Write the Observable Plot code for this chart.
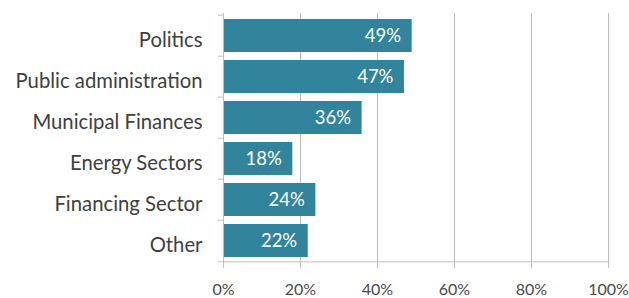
<!DOCTYPE html>
<html><head><meta charset="utf-8">
<script src="https://cdn.jsdelivr.net/npm/d3@7"></script>
<script src="https://cdn.jsdelivr.net/npm/@observablehq/plot@0.6"></script>
<style>body{margin:0;background:#fff}</style>
</head><body><div id="chart"></div><script>
const categories = ["Politics","Public administration","Municipal Finances","Energy Sectors","Financing Sector","Other"];
const values = [49,47,36,18,24,22];
const xTicks = [0,20,40,60,80,100];
const data = categories.map((c,i)=>({category:c,value:values[i]}));
const W=629,H=298,mt=13,mb=35,ml=223,mr=21;
const step=(H-mt-mb)/categories.length;
const grid="#bfbfbf";
const last=categories[categories.length-1];
const chart = Plot.plot({
  width:W,height:H,marginTop:mt,marginBottom:mb,marginLeft:ml,marginRight:mr,
  style:{fontFamily:"Lato, sans-serif",background:"#fff"},
  x:{domain:[0,100]},
  y:{domain:categories,paddingInner:0.2,paddingOuter:0.1},
  marks:[
    Plot.gridX(xTicks.slice(1),{stroke:grid,strokeOpacity:1}),
    Plot.barX(data,{x:"value",y:"category",fill:"#31849b"}),
    Plot.ruleX([0],{stroke:grid}),
    Plot.ruleY([last],{stroke:grid,dy:step/2}),
    Plot.axisY({tickSize:0,tickPadding:21,fontSize:20.3,fill:"#404040",dy:4,label:null}),
    Plot.axisY({text:null,tickSize:5,stroke:grid,dy:-step/2,label:null}),
    Plot.axisY([last],{text:null,tickSize:5,stroke:grid,dy:step/2,label:null}),
    Plot.axisX(xTicks,{tickSize:5,stroke:grid,tickPadding:15,tickFormat:d=>d+"%",fontSize:16,fill:"#4a4a4a",label:null}),
    Plot.text(data,{x:"value",y:"category",text:d=>d.value+"%",textAnchor:"end",dx:-11,fill:"white",fontSize:18.5})
  ]
});
document.getElementById("chart").appendChild(chart);
</script></body></html>
